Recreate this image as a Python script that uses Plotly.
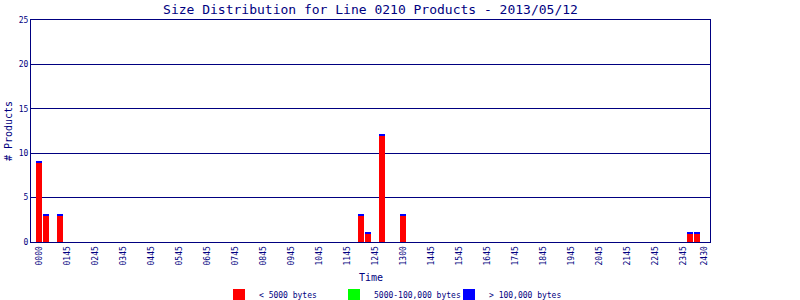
import plotly.graph_objects as go

# 15-minute bins across the day (96 bins)
n_bins = 96
tick_bins = [0, 4, 8, 12, 16, 20, 24, 28, 32, 36, 40, 44, 48, 52, 56, 60,
             64, 68, 72, 76, 80, 84, 88, 92, 95]
tick_labels = ["0000", "0145", "0245", "0345", "0445", "0545", "0645", "0745",
               "0845", "0945", "1045", "1145", "1245", "1300", "1445", "1545",
               "1645", "1745", "1845", "1945", "2045", "2145", "2245", "2345", "2430"]

# non-empty bins and their counts
small_bins = [0, 1, 3, 46, 47, 49, 52, 93, 94]
small_counts = [9, 3, 3, 3, 1, 12, 3, 1, 1]
medium_bins = []
medium_counts = []
large_bins = [0, 1, 3, 46, 47, 49, 52, 93, 94]
large_counts = [0.1, 0.1, 0.1, 0.1, 0.1, 0.1, 0.1, 0.1, 0.1]

def expand(bins, counts):
    vals = [0] * n_bins
    for b, c in zip(bins, counts):
        vals[b] = c
    return vals

x = list(range(n_bins))
NAVY = "#000080"
FONT = "DejaVu Sans Mono"

fig = go.Figure()
fig.add_bar(x=x, y=expand(small_bins, small_counts), name="< 5000 bytes",
            marker=dict(color="#ff0000", line=dict(width=0)))
fig.add_bar(x=x, y=expand(medium_bins, medium_counts), name="5000-100,000 bytes",
            marker=dict(color="#00ff00", line=dict(width=0)))
fig.add_bar(x=x, y=expand(large_bins, large_counts), name="> 100,000 bytes",
            marker=dict(color="#0000ff", line=dict(width=0)))

fig.update_layout(
    width=800, height=300,
    barmode="stack", bargap=1/7,
    paper_bgcolor="white", plot_bgcolor="white",
    margin=dict(l=31, r=90, t=20, b=58),
    font=dict(family=FONT, color=NAVY, size=8),
    title=dict(text="Size Distribution for Line 0210 Products - 2013/05/12",
               x=370.5/800, xanchor="center", y=1 - 9/300, yanchor="middle",
               font=dict(family=FONT, size=13, color=NAVY)),
    showlegend=True,
    legend=dict(orientation="h", xref="container", yref="container",
                x=219/800, xanchor="left", y=(300 - 295)/300, yanchor="middle",
                entrywidth=70, entrywidthmode="pixels", itemwidth=30,
                font=dict(family=FONT, size=8, color=NAVY), traceorder="normal",
                bgcolor="rgba(0,0,0,0)"),
    xaxis=dict(range=[-8/7, 671/7], tickmode="array", tickvals=tick_bins,
               ticktext=tick_labels, tickangle=-90, showgrid=False, zeroline=False,
               showline=True, linecolor=NAVY, linewidth=1, mirror=True,
               automargin=False,
               tickfont=dict(family=FONT, size=8, color=NAVY)),
    yaxis=dict(range=[0, 25], dtick=5, showgrid=True, gridcolor=NAVY, gridwidth=1,
               zeroline=False, showline=True, linecolor=NAVY, linewidth=1, mirror=True,
               automargin=False,
               tickfont=dict(family=FONT, size=8, color=NAVY),
               title=dict(text="# Products", font=dict(family=FONT, size=10, color=NAVY),
                          standoff=4)),
    annotations=[dict(text="Time", xref="paper", yref="paper", x=0.5,
                      y=(242 - 277)/222, xanchor="center", yanchor="middle",
                      showarrow=False, font=dict(family=FONT, size=10, color=NAVY))],
)

fig.write_html("out.html")
